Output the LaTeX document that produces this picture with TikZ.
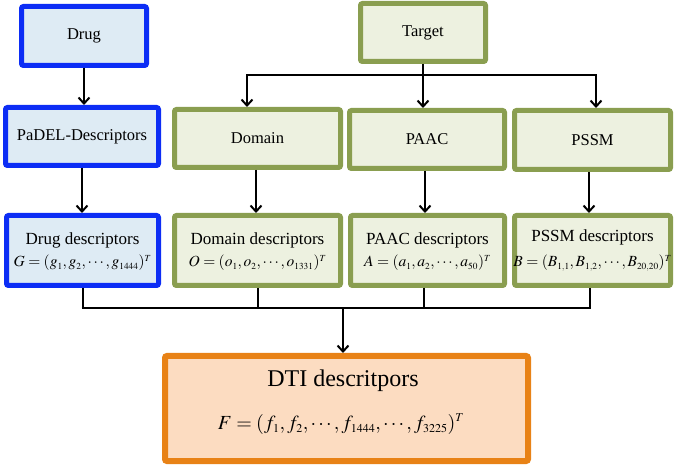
\documentclass[tikz,border=0pt]{standalone}
\usepackage{mathptmx}
\usepackage[no-math]{fontspec}
\setmainfont{Liberation Serif}
\usetikzlibrary{arrows.meta,shadows}
\definecolor{bborder}{RGB}{12,45,245}
\definecolor{bfill}{RGB}{222,235,244}
\definecolor{gborder}{RGB}{138,158,80}
\definecolor{gfill}{RGB}{237,241,224}
\definecolor{oborder}{RGB}{232,130,22}
\definecolor{ofill}{RGB}{252,220,193}
\tikzset{
  box/.style={rectangle, rounded corners=2pt, line width=5pt, inner sep=0pt, align=center,
    font=\fontsize{16.5}{20}\selectfont,
    drop shadow={opacity=0.25, shadow xshift=1.5pt, shadow yshift=-1.5pt}},
  bluebox/.style={box, draw=bborder, fill=bfill},
  greenbox/.style={box, draw=gborder, fill=gfill},
  orangebox/.style={box, draw=oborder, fill=ofill, line width=6pt},
  conn/.style={line width=2pt, black},
  arr/.style={conn, -{Straight Barb[length=6pt,width=11pt,line width=2pt]}},
  ttl/.style={font=\fontsize{17}{20}\selectfont},
  mth/.style={font=\fontsize{15.5}{18}\selectfont},
}
\newcommand{\ssub}[1]{_{\scriptscriptstyle #1}}
\begin{document}
\begin{tikzpicture}[x=1pt,y=-1pt]
\useasboundingbox (0,0) rectangle (675,470);
% row 1
\node[bluebox, minimum width=125pt, minimum height=59pt] (drug) at (84,36) {Drug};
\node[greenbox, minimum width=125pt, minimum height=58pt] (target) at (423,32.5) {Target};
% row 2
\node[bluebox, minimum width=153pt, minimum height=58pt] (padel) at (82,136.5) {PaDEL-Descriptors};
\node[greenbox, minimum width=166pt, minimum height=58pt] (domain) at (257.5,138.5) {Domain};
\node[greenbox, minimum width=155pt, minimum height=58pt] (paac) at (427,139.5) {PAAC};
\node[greenbox, minimum width=156pt, minimum height=59pt] (pssm) at (592.5,140) {PSSM};
% row 3
\node[bluebox, minimum width=152pt, minimum height=70pt] (drugd) at (82.5,250.5) {};
\node[greenbox, minimum width=166pt, minimum height=70pt] (domd) at (257.5,250.5) {};
\node[greenbox, minimum width=154pt, minimum height=70pt] (paacd) at (427.5,250.5) {};
\node[greenbox, minimum width=156pt, minimum height=70pt] (pssmd) at (592.5,250.5) {};
\node[ttl] (drugdt) at (82.5,240) {Drug descriptors};
\node[mth] (drugdm) at (82.5,263) {$G=(g\ssub{1},g\ssub{2},\cdots,g\ssub{1444})^{\scriptscriptstyle T}$};
\node[ttl] (domdt) at (257.5,240) {Domain descriptors};
\node[mth] (domdm) at (257.5,263) {$O=(o\ssub{1},o\ssub{2},\cdots,o\ssub{1331})^{\scriptscriptstyle T}$};
\node[ttl] (paacdt) at (427.5,240) {PAAC descriptors};
\node[mth] (paacdm) at (427.5,263) {$A=(a\ssub{1},a\ssub{2},\cdots,a\ssub{50})^{\scriptscriptstyle T}$};
\node[ttl] (pssmdt) at (592.5,237) {PSSM descriptors};
\node[mth] (pssmdm) at (592.5,263) {$B=(B\ssub{1,1},B\ssub{1,2},\cdots,B\ssub{20,20})^{\scriptscriptstyle T}$};
% DTI
\node[orangebox, minimum width=363pt, minimum height=105pt] (dti) at (346.5,408.5) {};
\node[font=\fontsize{24}{28}\selectfont] (dtit) at (343,381) {DTI descritpors};
\node[font=\fontsize{20}{24}\selectfont] (dtim) at (341,424) {$F=(f\ssub{1},f\ssub{2},\cdots,f\ssub{1444},\cdots,f\ssub{3225})^{\scriptscriptstyle T}$};
% coordinates
\coordinate (tbus) at (0,75);
\coordinate (bbus) at (0,308);
% drug chain
\draw[arr] (drug.south) -- (drug.south |- padel.north);
\draw[arr] (padel.south) -- (padel.south |- drugd.north);
% target bus
\draw[conn] (target.south) -- (target.south |- tbus);
\draw[conn] ([xshift=-1pt]247,75) -- (597,75);
\draw[arr] (247,75) -- (247,0 |- domain.north);
\draw[arr] (target.south |- tbus) -- (target.south |- paac.north);
\draw[arr] (596,75) -- (596,0 |- pssm.north);
% row 2 -> 3
\draw[arr] (256,0 |- domain.south) -- (256,0 |- domd.north);
\draw[arr] (425,0 |- paac.south) -- (425,0 |- paacd.north);
\draw[arr] (589,0 |- pssm.south) -- (589,0 |- pssmd.north);
% bottom bus
\draw[conn] (drugd.south) -- (drugd.south |- bbus);
\draw[conn] (258,0 |- domd.south) -- (258,308);
\draw[conn] (424,0 |- paacd.south) -- (424,308);
\draw[conn] (590,0 |- pssmd.south) -- (590,308);
\draw[conn] ([xshift=-1pt]drugd.south |- bbus) -- (591,308);
\draw[arr] (343,308) -- (343,0 |- dti.north);
\end{tikzpicture}
\end{document}
